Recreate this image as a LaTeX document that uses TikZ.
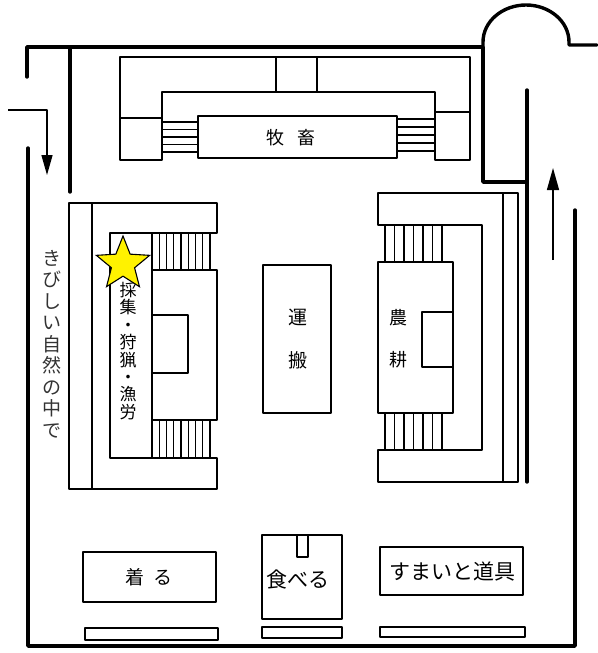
\documentclass[tikz,border=0pt]{standalone}
\usepackage{fontspec}
\newfontfamily\jp{Noto Sans CJK JP}
\usetikzlibrary{arrows.meta,shapes.geometric}
\begin{document}
\begin{tikzpicture}[x=1pt,y=-1pt,
  ln/.style={line width=1.4pt, line join=round, line cap=round},
  wall/.style={line width=3.4pt, line join=round, line cap=round},
  lbl/.style={font=\jp\fontsize{19}{21}\selectfont, inner sep=0pt},
  tip/.style={-{Triangle[length=#1]}}]
\useasboundingbox (0,0) rectangle (597,653);
% ---------- walls ----------
\draw[wall] (27,77) -- (27,47) -- (483,47) -- (483,182) -- (527,182);
\draw[wall] (483,47) -- (483,42) arc[start angle=180,end angle=0,x radius=43pt,y radius=37pt] -- (569,45) -- (597,45);
\draw[wall] (527,90) -- (527,482);
\draw[wall] (70,47) -- (70,192);
\draw[wall] (28,148) -- (28,646) -- (575,646) -- (575,210);
% ---------- arrows ----------
\coordinate (inA) at (8,110); \coordinate (inB) at (47,110); \coordinate (inC) at (47,175);
\draw[ln, line cap=butt, -{Triangle[length=20pt,width=11pt]}] (inA) -- (inB) -- (inC);
\coordinate (outA) at (553,260); \coordinate (outB) at (553,168);
\draw[ln, line cap=butt, -{Triangle[length=22pt,width=12pt]}] (outA) -- (outB);
% ---------- top structure (牧畜) ----------
\draw[ln] (120,160) -- (120,57) -- (470,57) -- (470,160) -- (435,160) -- (435,92) -- (162,92) -- (162,160) -- cycle;
\draw[ln] (120,118) -- (162,118);
\draw[ln] (435,112) -- (470,112);
\draw[ln] (276,57) -- (276,92);
\draw[ln] (317,57) -- (317,92);
\draw[ln] (198,116) rectangle (397,158);
\foreach \y in {122,129.5,137,144.5,152} \draw[ln] (162,\y) -- (198,\y);
\foreach \y in {119,127,135,143,151} \draw[ln] (397,\y) -- (435,\y);
\node[lbl, font=\jp\fontsize{18}{20}\selectfont] (muku) at (291,138) {牧\hspace{14pt}畜};
% ---------- left structure (採集・狩猟・漁労) ----------
\draw[ln] (69,203) rectangle (92,489);
\draw[ln] (92,203) -- (217,203) -- (217,233) -- (110,233) -- (110,458) -- (217,458) -- (217,489) -- (92,489);
\draw[ln] (152,233) -- (152,458);
\draw[ln] (152,270) rectangle (217,420);
\draw[ln] (152,315) rectangle (188,373);
\foreach \i in {0,...,8} {
  \draw[ln] ({152+\i*7.25},233) -- ({152+\i*7.25},270);
  \draw[ln] ({152+\i*7.25},420) -- ({152+\i*7.25},458);
}
\node[lbl, align=center, font=\jp\fontsize{17}{17.4}\selectfont] (saishu) at (128,351) {採\\集\\・\\狩\\猟\\・\\漁\\労};
\node[star, star points=5, star point ratio=2.3, minimum size=56pt, inner sep=0pt,
      draw=black, line width=1.1pt, fill=yellow] (star) at (123,264) {};
% ---------- center (運搬) ----------
\draw[ln] (263,265) rectangle (331,413);
\node[lbl] (un) at (298,317) {運};
\node[lbl] (pan) at (298,360) {搬};
% ---------- right structure (農耕) ----------
\draw[ln] (503,193) rectangle (518,482);
\draw[ln] (503,193) -- (378,193) -- (378,225) -- (482,225) -- (482,450) -- (378,450) -- (378,482) -- (503,482);
\draw[ln] (378,262) rectangle (453,413);
\draw[ln] (422,312) rectangle (453,367);
\foreach \i in {0,...,6} {
  \draw[ln] ({385+\i*9.5},225) -- ({385+\i*9.5},262);
  \draw[ln] ({385+\i*9.5},413) -- ({385+\i*9.5},450);
}
\node[lbl, font=\jp\fontsize{18}{20}\selectfont] (nou) at (398,318) {農};
\node[lbl, font=\jp\fontsize{18}{20}\selectfont] (kou) at (398,360) {耕};
% ---------- left label ----------
\node[lbl, align=center, font=\jp\fontsize{19}{21.5}\selectfont, text=black!80] (kibi) at (52,344) {き\\び\\し\\い\\自\\然\\の\\中\\で};
% ---------- bottom ----------
\draw[ln] (83,552) rectangle (216,602);
\node[lbl] (kiru) at (149,577) {着\hspace{9pt}る};
\draw[ln] (85,628) rectangle (218,640);
\draw[ln] (262,535) rectangle (342,619);
\draw[ln] (297,535) rectangle (308,557);
\node[lbl, font=\jp\fontsize{21}{23}\selectfont] (taberu) at (298,580) {食べる};
\draw[ln] (262,627) rectangle (342,638);
\draw[ln] (380,547) rectangle (523,595);
\node[lbl, font=\jp\fontsize{21}{23}\selectfont] (sumai) at (452,572) {すまいと道具};
\draw[ln] (380,627) rectangle (525,637);
\end{tikzpicture}
\end{document}
